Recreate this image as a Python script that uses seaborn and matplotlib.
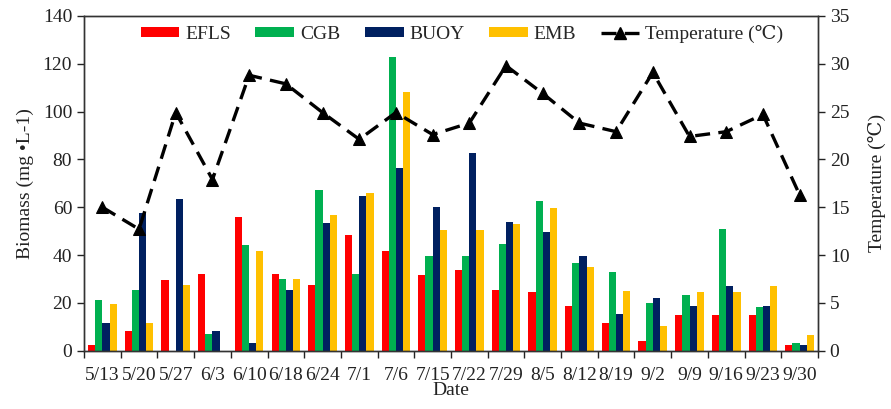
import numpy as np
import pandas as pd
import matplotlib
matplotlib.use("Agg")
import matplotlib.pyplot as plt
from matplotlib.lines import Line2D
from matplotlib.patches import Patch
from matplotlib.ticker import FixedLocator, MultipleLocator
import seaborn as sns

dates = ["5/13", "5/20", "5/27", "6/3", "6/10", "6/18", "6/24", "7/1", "7/6", "7/15",
         "7/22", "7/29", "8/5", "8/12", "8/19", "9/2", "9/9", "9/16", "9/23", "9/30"]
efls = [2.6, 8.3, 29.7, 32.1, 55.8, 32.1, 27.3, 48.4, 41.7, 31.6,
        33.7, 25.4, 24.4, 18.8, 11.6, 4.2, 14.8, 14.9, 15.1, 2.3]
cgb = [21.4, 25.6, 0.0, 7.1, 44.1, 30.1, 67.1, 32.1, 123.0, 39.6,
       39.6, 44.8, 62.7, 36.8, 32.9, 20.0, 23.1, 50.9, 18.2, 3.2]
buoy = [11.5, 57.8, 63.4, 8.1, 3.1, 25.2, 53.3, 64.8, 76.5, 59.9,
        82.7, 54.0, 49.8, 39.6, 15.3, 21.9, 18.5, 27.0, 18.6, 2.3]
emb = [19.4, 11.6, 27.3, 0.0, 41.6, 30.1, 56.9, 66.1, 108.2, 50.5,
       50.5, 53.0, 59.6, 34.9, 25.1, 10.3, 24.5, 24.5, 27.0, 6.7]
temperature = [15.0, 12.7, 24.9, 17.9, 28.8, 27.9, 24.9, 22.1, 24.9, 22.6,
               23.8, 29.8, 26.9, 23.8, 22.9, 29.1, 22.4, 22.9, 24.7, 16.3]
series_names = ["EFLS", "CGB", "BUOY", "EMB"]
series_colors = ["#FF0000", "#00B050", "#002060", "#FFC000"]

df = pd.DataFrame({
    "Date": dates * 4,
    "Biomass": efls + cgb + buoy + emb,
    "Site": [s for s in series_names for _ in dates],
})

sns.set_theme(style="white")
plt.rcParams["font.family"] = ["Liberation Serif", "DejaVu Serif"]

FS = 14
TXT = "#222222"

fig = plt.figure(figsize=(8.91, 4.09), dpi=100)
ax = fig.add_axes([0.0943, 0.1425, 0.8237, 0.8185])

sns.barplot(data=df, x="Date", y="Biomass", hue="Site", hue_order=series_names,
            palette=series_colors, width=0.78, gap=0, saturation=1, ax=ax,
            errorbar=None, legend=False, linewidth=0)

ax.set_ylim(0, 140)
ax.set_xlim(-0.5, len(dates) - 0.5)
ax.yaxis.set_major_locator(MultipleLocator(20))
ax.set_ylabel("Biomass (mg •L-1)", fontsize=FS, color=TXT, labelpad=6)
ax.set_xlabel("Date", fontsize=FS, color=TXT, labelpad=-2)
ax.tick_params(axis="y", which="major", direction="out", length=5, width=1,
               labelsize=FS, colors=TXT, left=True)
ax.tick_params(axis="x", which="major", length=0, labelsize=FS, colors=TXT, pad=12)
ax.xaxis.set_minor_locator(FixedLocator(np.arange(-0.5, len(dates), 1.0)))
ax.tick_params(axis="x", which="minor", direction="out", length=5, width=1,
               bottom=True, color=TXT)
for sp in ax.spines.values():
    sp.set_color("#333333")
    sp.set_linewidth(1.0)

ax2 = ax.twinx()
sns.lineplot(x=np.arange(len(dates)), y=temperature, ax=ax2, color="black",
             linewidth=2.4, marker="^", markersize=9, markeredgecolor="black",
             linestyle=(0, (4.5, 2.5)))
ax2.set_ylim(0, 35)
ax2.yaxis.set_major_locator(MultipleLocator(5))
ax2.set_ylabel("Temperature (℃)", fontsize=FS, color=TXT, labelpad=13)
ax2.tick_params(axis="y", direction="out", length=5, width=1, labelsize=FS,
                colors=TXT, right=True)
for sp in ax2.spines.values():
    sp.set_color("#333333")
    sp.set_linewidth(1.0)

handles = [Patch(facecolor=c, edgecolor="none") for c in series_colors]
handles.append(Line2D([0], [0], color="black", linewidth=2.4, marker="^",
                      markersize=9, linestyle=(0, (4.5, 2.5))))
labels = series_names + ["Temperature (℃)"]
ax2.legend(handles, labels, loc="upper center", bbox_to_anchor=(0.515, 1.025),
           ncol=5, frameon=False, fontsize=FS, handlelength=2.0,
           handleheight=0.45, columnspacing=1.25, handletextpad=0.3)

fig.savefig("out.png", dpi=100)
